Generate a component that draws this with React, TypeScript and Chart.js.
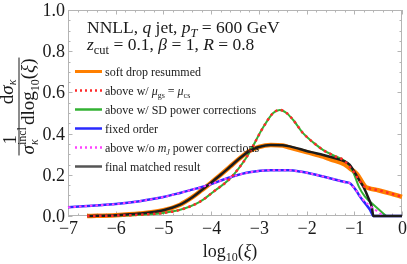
import React, { useEffect, useRef } from 'react';
import { Chart, registerables } from 'chart.js';

Chart.register(...registerables);

// ---- data (log10 xi, normalized cross section) ----
const xSoft = [-6.6, -6, -5.5, -5, -4.65, -4.4, -4.2, -4, -3.8, -3.6, -3.4, -3.2, -3, -2.75, -2.5, -2.35, -2, -1.65, -1.5, -1.2, -1.09, -0.95, -0.85, -0.77, -0.7, -0.5, -0.25, 0];
const ySoft = [0, 0.004, 0.012, 0.028, 0.055, 0.09, 0.125, 0.162, 0.2, 0.24, 0.28, 0.315, 0.335, 0.345, 0.342, 0.332, 0.31, 0.288, 0.275, 0.25, 0.231, 0.205, 0.17, 0.143, 0.135, 0.125, 0.11, 0.093];

const xScale = [-6.6, -6, -5.5, -5, -4.65, -4.23, -3.95, -3.6, -3.25, -2.9, -2.7, -2.56, -2.42, -2.28, -2.07, -1.85, -1.65, -1.4, -1.23, -1.1, -1.0, -0.9, -0.8, -0.7, -0.5, -0.25, 0];
const yScale = [0, 0.002, 0.006, 0.015, 0.03, 0.07, 0.118, 0.183, 0.288, 0.434, 0.5, 0.515, 0.5, 0.466, 0.401, 0.355, 0.32, 0.29, 0.272, 0.24, 0.21, 0.175, 0.145, 0.135, 0.125, 0.11, 0.093];

const xSD = [-6.6, -6, -5.5, -5, -4.65, -4.23, -3.95, -3.6, -3.25, -2.9, -2.7, -2.56, -2.42, -2.28, -2.07, -1.85, -1.65, -1.4, -1.23, -1.1, -1.0, -0.9, -0.78, -0.55, -0.33];
const ySD = [0, 0.002, 0.006, 0.015, 0.03, 0.07, 0.118, 0.183, 0.288, 0.434, 0.5, 0.515, 0.5, 0.466, 0.401, 0.355, 0.32, 0.29, 0.272, 0.245, 0.2, 0.14, 0.095, 0.045, 0];

const xFixed = [-7, -6.5, -6, -5.5, -5, -4.65, -4.3, -4.06, -3.6, -3.2, -2.77, -2.35, -2.14, -1.8, -1.51, -1.2, -1.09, -0.95, -0.88, -0.75, -0.67, -0.6, 0];
const yFixed = [0.042, 0.05, 0.058, 0.072, 0.092, 0.112, 0.134, 0.15, 0.188, 0.212, 0.222, 0.222, 0.216, 0.2, 0.183, 0.165, 0.159, 0.12, 0.094, 0.055, 0.03, 0, 0];

const xNoMJ = [-7, -6.5, -6, -5.5, -5, -4.65, -4.3, -4.06, -3.6, -3.2, -2.77, -2.35, -2.14, -1.8, -1.51, -1.2, -1.09, -0.95, -0.81, -0.65, -0.46, -0.4];
const yNoMJ = [0.042, 0.05, 0.058, 0.072, 0.092, 0.112, 0.134, 0.15, 0.188, 0.212, 0.222, 0.222, 0.216, 0.2, 0.183, 0.165, 0.159, 0.12, 0.078, 0.045, 0.013, 0];

const xFinal = [-6.6, -6, -5.5, -5, -4.65, -4.4, -4.2, -4, -3.8, -3.6, -3.4, -3.2, -3, -2.75, -2.5, -2.35, -2.14, -1.9, -1.65, -1.4, -1.19, -1.1, -1.02, -0.9, -0.81, -0.7, -0.63, -0.6, 0];
const yFinal = [0, 0.004, 0.012, 0.028, 0.055, 0.09, 0.125, 0.162, 0.2, 0.24, 0.28, 0.315, 0.335, 0.345, 0.343, 0.338, 0.325, 0.31, 0.296, 0.28, 0.264, 0.25, 0.223, 0.175, 0.142, 0.085, 0.04, 0, 0];

const xTicks = [-7, -6, -5, -4, -3, -2, -1, 0];
const xTickLabels = ['\u22127', '\u22126', '\u22125', '\u22124', '\u22123', '\u22122', '\u22121', '0'];
const yTicks = [0, 0.2, 0.4, 0.6, 0.8, 1.0];
const yTickLabels = ['0.0', '0.2', '0.4', '0.6', '0.8', '1.0'];

const COLORS = {
  soft: '#ff7f00',
  scale: '#ff2a2a',
  sd: '#33b233',
  fixed: '#2a2aff',
  nomj: '#ff44ff',
  final: '#1c1c1c',
};

const SERIF = '"Liberation Serif", "Times New Roman", serif';

type Seg = { t: string; it?: boolean; s?: number; dy?: number };

function segWidth(ctx: CanvasRenderingContext2D, sg: Seg, base: number) {
  ctx.font = `${sg.it ? 'italic ' : ''}${sg.s ?? base}px ${SERIF}`;
  return ctx.measureText(sg.t).width;
}

function richWidth(ctx: CanvasRenderingContext2D, segs: Seg[], base: number) {
  return segs.reduce((a, s) => a + segWidth(ctx, s, base), 0);
}

function drawRich(ctx: CanvasRenderingContext2D, segs: Seg[], x: number, y: number, base: number) {
  let cx = x;
  ctx.textAlign = 'left';
  ctx.textBaseline = 'alphabetic';
  for (const sg of segs) {
    const w = segWidth(ctx, sg, base);
    ctx.fillText(sg.t, cx, y + (sg.dy ?? 0));
    cx += w;
  }
  return cx - x;
}

const legendItems: { segs: Seg[]; color: string; width: number; dash: number[] }[] = [
  { segs: [{ t: 'soft drop resummed' }], color: COLORS.soft, width: 3, dash: [] },
  { segs: [{ t: 'above w/ ' }, { t: 'μ', it: true }, { t: 'gs', s: 8, dy: 3 }, { t: ' = ' }, { t: 'μ', it: true }, { t: 'cs', s: 8, dy: 3 }], color: COLORS.scale, width: 2.5, dash: [2, 3] },
  { segs: [{ t: 'above w/ SD power corrections' }], color: COLORS.sd, width: 2.5, dash: [] },
  { segs: [{ t: 'fixed order' }], color: COLORS.fixed, width: 2.5, dash: [] },
  { segs: [{ t: 'above w/o ' }, { t: 'm', it: true }, { t: 'J', it: true, s: 8, dy: 3 }, { t: ' power corrections' }], color: COLORS.nomj, width: 2.5, dash: [2, 3] },
  { segs: [{ t: 'final matched result' }], color: '#555555', width: 2.5, dash: [] },
];

const decorPlugin = {
  id: 'decor',
  beforeDatasetsDraw(chart: any) {
    const ctx: CanvasRenderingContext2D = chart.ctx;
    const { left, right, top, bottom } = chart.chartArea;
    const xs = chart.scales.x;
    const ys = chart.scales.y;
    ctx.save();
    ctx.strokeStyle = '#b4b4b4';
    ctx.lineWidth = 1;
    ctx.strokeRect(left + 0.5, top + 0.5, right - left - 1, bottom - top - 1);
    ctx.beginPath();
    for (let i = 0; i <= 35; i++) {
      const v = -7 + i * 0.2;
      const major = i % 5 === 0;
      const len = major ? 4.5 : 2.5;
      const px = Math.round(xs.getPixelForValue(v)) + 0.5;
      ctx.moveTo(px, bottom);
      ctx.lineTo(px, bottom - len);
      ctx.moveTo(px, top);
      ctx.lineTo(px, top + len);
    }
    for (let i = 0; i <= 20; i++) {
      const v = i * 0.05;
      const major = i % 4 === 0;
      const len = major ? 4.5 : 2.5;
      const py = Math.round(ys.getPixelForValue(v)) + 0.5;
      ctx.moveTo(left, py);
      ctx.lineTo(left + len, py);
      ctx.moveTo(right, py);
      ctx.lineTo(right - len, py);
    }
    ctx.stroke();
    ctx.restore();
  },
  afterDraw(chart: any) {
    const ctx: CanvasRenderingContext2D = chart.ctx;
    const xs = chart.scales.x;
    const ys = chart.scales.y;
    ctx.save();
    ctx.fillStyle = '#1a1a1a';
    // tick labels
    ctx.font = `18px ${SERIF}`;
    ctx.textAlign = 'right';
    ctx.textBaseline = 'alphabetic';
    yTicks.forEach((v, i) => ctx.fillText(yTickLabels[i], 65, ys.getPixelForValue(v) + 6));
    ctx.textAlign = 'center';
    xTicks.forEach((v, i) => ctx.fillText(xTickLabels[i], xs.getPixelForValue(v) + 0.5, 234));

    // x title
    const xt: Seg[] = [{ t: 'log' }, { t: '10', s: 12, dy: 4 }, { t: '(' }, { t: 'ξ', it: true }, { t: ')' }];
    const xw = richWidth(ctx, xt, 18);
    drawRich(ctx, xt, 230 - xw / 2, 257, 18);

    // title
    drawRich(ctx, [{ t: 'NNLL, ' }, { t: 'q', it: true }, { t: ' jet, ' }, { t: 'p', it: true }, { t: 'T', it: true, s: 12.5, dy: 4 }, { t: ' = 600 GeV' }], 87, 33, 17.5);
    drawRich(ctx, [{ t: 'z', it: true }, { t: 'cut', s: 12.5, dy: 4 }, { t: ' = 0.1, ' }, { t: 'β', it: true }, { t: ' = 1, ' }, { t: 'R', it: true }, { t: ' = 0.8' }], 87, 50, 17.5);

    // legend
    legendItems.forEach((it, i) => {
      const y = 71.5 + i * 19;
      ctx.save();
      ctx.strokeStyle = it.color;
      ctx.lineWidth = it.width;
      ctx.setLineDash(it.dash);
      ctx.beginPath();
      ctx.moveTo(75, y);
      ctx.lineTo(102, y);
      ctx.stroke();
      ctx.restore();
      drawRich(ctx, it.segs, 105, y + 4, 12);
    });

    // y title (rotated): (1 / sigma_kappa^incl) * d sigma_kappa / dlog10(xi)
    ctx.save();
    ctx.rotate(-Math.PI / 2);
    const B = 19;
    const sig: Seg[] = [{ t: 'σ', it: true }];
    const part2: Seg[] = [{ t: 'dlog' }, { t: '10', s: 12, dy: 5 }, { t: '(' }, { t: 'ξ', it: true }, { t: ')' }];
    const sigW = richWidth(ctx, sig, B);
    ctx.font = `12px ${SERIF}`;
    const inclW = ctx.measureText('incl').width;
    const w1 = sigW + inclW + 2;
    const w2 = richWidth(ctx, part2, B);
    const uStart = -106.5 - (w1 + w2) / 2;
    drawRich(ctx, sig, uStart, 34, B);
    ctx.font = `12px ${SERIF}`;
    ctx.fillText('incl', uStart + sigW, 26);
    ctx.font = `italic 12px ${SERIF}`;
    ctx.fillText('κ', uStart + sigW, 38);
    drawRich(ctx, part2, uStart + w1, 34, B);
    ctx.font = `${B}px ${SERIF}`;
    const one = ctx.measureText('1').width;
    ctx.fillText('1', uStart + w1 / 2 - one / 2, 16);
    const num: Seg[] = [{ t: 'd' }, { t: 'σ', it: true }, { t: 'κ', it: true, s: 12, dy: 3 }];
    const nw = richWidth(ctx, num, B);
    drawRich(ctx, num, uStart + w1 + w2 / 2 - nw / 2, 13, B);
    ctx.fillRect(uStart - 1, 18.5, w1 + w2 + 2, 1);
    ctx.restore();

    ctx.restore();
  },
};

function pts(xs: number[], ys: number[]) {
  return xs.map((x, i) => ({ x, y: ys[i] }));
}

export default function App() {
  const ref = useRef<HTMLCanvasElement | null>(null);
  useEffect(() => {
    if (!ref.current) return;
    const common = { pointRadius: 0, cubicInterpolationMode: 'monotone' as const, fill: false, clip: false as any, borderCapStyle: 'butt' as const };
    const chart = new Chart(ref.current, {
      type: 'line',
      data: {
        datasets: [
          { ...common, label: 'above w/o mJ power corrections', data: pts(xNoMJ, yNoMJ), borderColor: COLORS.nomj, borderWidth: 2, borderDash: [2.5, 3], order: 0 },
          { ...common, label: 'above w/ mu_gs = mu_cs', data: pts(xScale, yScale), borderColor: COLORS.scale, borderWidth: 2.5, borderDash: [2.5, 3.5], order: 1 },
          { ...common, label: 'final matched result', data: pts(xFinal, yFinal), borderColor: COLORS.final, borderWidth: 2.5, order: 2 },
          { ...common, label: 'fixed order', data: pts(xFixed, yFixed), borderColor: COLORS.fixed, borderWidth: 2.5, order: 3 },
          { ...common, label: 'above w/ SD power corrections', data: pts(xSD, ySD), borderColor: COLORS.sd, borderWidth: 2, order: 4 },
          { ...common, label: 'soft drop resummed', data: pts(xSoft, ySoft), borderColor: COLORS.soft, borderWidth: 4.5, order: 5 },
        ] as any,
      },
      options: {
        animation: false,
        responsive: false,
        devicePixelRatio: 1,
        layout: { padding: { left: 68, top: 10, right: 5, bottom: 48 } },
        scales: {
          x: { type: 'linear', min: -7, max: 0, display: false },
          y: { type: 'linear', min: 0, max: 1, display: false },
        },
        plugins: { legend: { display: false }, tooltip: { enabled: false } },
        elements: { point: { radius: 0 } },
      },
      plugins: [decorPlugin],
    });
    return () => chart.destroy();
  }, []);
  return (
    <div style={{ position: 'fixed', left: 0, top: 0, width: 407, height: 264, background: '#fff' }}>
      <canvas ref={ref} width={407} height={264} style={{ width: 407, height: 264, display: 'block' }} />
    </div>
  );
}
